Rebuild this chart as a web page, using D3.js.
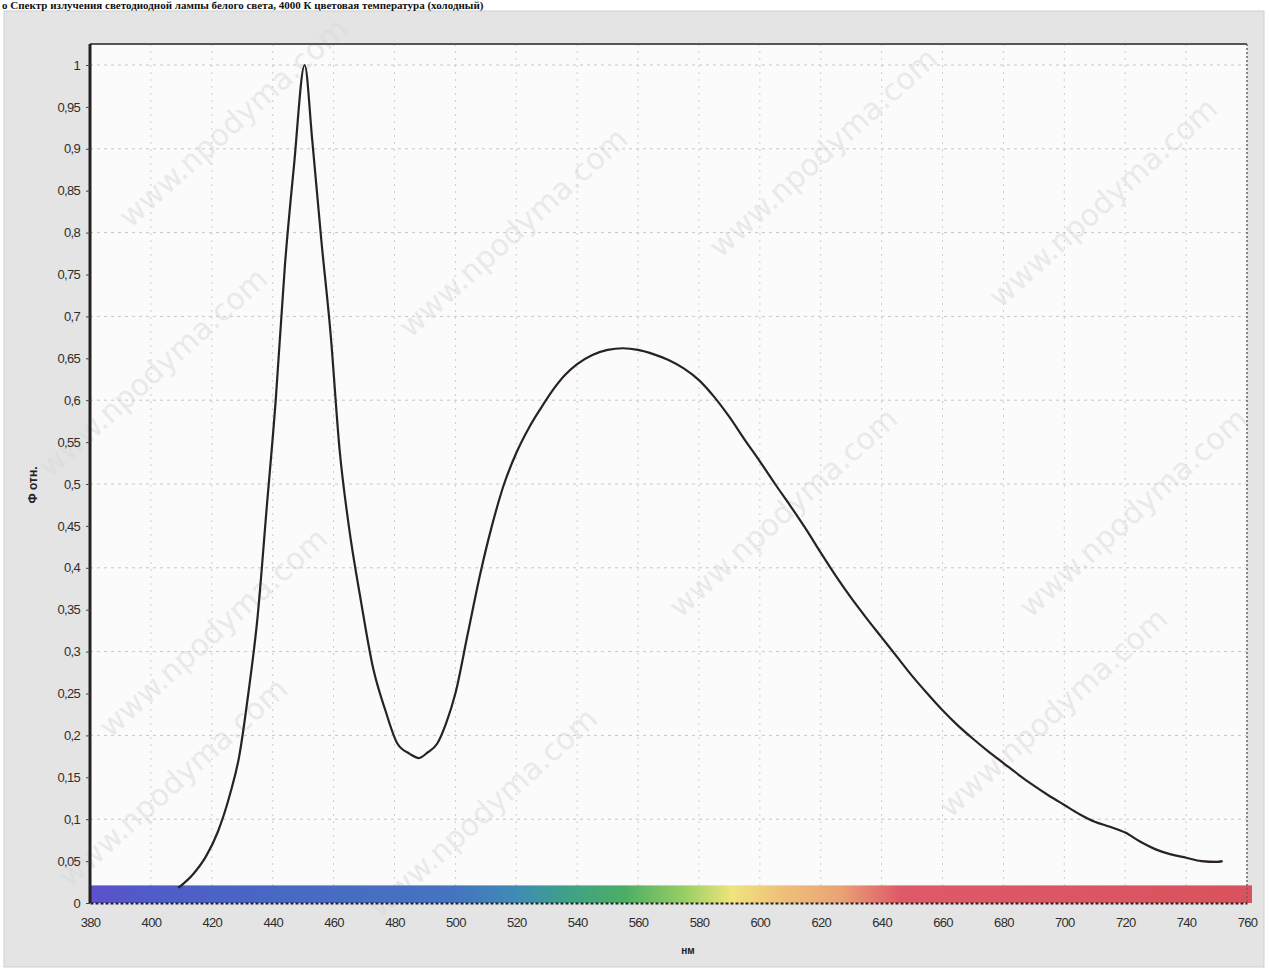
<!DOCTYPE html>
<html>
<head>
<meta charset="utf-8">
<script src="https://cdn.jsdelivr.net/npm/d3@7"></script>
<style>
  body { margin: 0; background: #ffffff; }
  svg { display: block; }
  .tick text { font-family: "Liberation Sans", Arial, sans-serif; font-size: 13px; fill: #2e2e2e; letter-spacing: -0.7px; }
</style>
</head>
<body>
<div id="chart"></div>
<script>
// data
var wavelengths = [409, 414, 418, 422, 426, 429, 432, 435, 438, 441, 444, 447, 450.5, 453, 456, 459, 462, 465,
  469, 473, 477, 481, 485, 488, 491, 494, 497, 500, 504, 508, 512, 516, 520, 524, 528, 532, 536, 540,
  545, 550, 555, 560, 565, 570, 575, 580, 585, 590, 595, 600, 605, 610, 615, 620, 625, 630, 635, 640,
  645, 650, 655, 660, 665, 670, 675, 680, 685, 690, 695, 700, 705, 710, 715, 720, 725, 730, 735, 740,
  745, 750, 752];
var fluxValues = [0.018, 0.035, 0.055, 0.085, 0.13, 0.175, 0.25, 0.34, 0.47, 0.60, 0.76, 0.88, 1.0, 0.91, 0.79, 0.68, 0.54, 0.45,
  0.36, 0.28, 0.23, 0.19, 0.178, 0.173, 0.18, 0.19, 0.215, 0.25, 0.32, 0.39, 0.45, 0.50, 0.537, 0.566, 0.59, 0.612, 0.63, 0.643,
  0.654, 0.66, 0.662, 0.66, 0.655, 0.648, 0.638, 0.624, 0.604, 0.58, 0.553, 0.527, 0.5, 0.474, 0.447, 0.418, 0.39, 0.364, 0.34, 0.317,
  0.294, 0.271, 0.25, 0.23, 0.212, 0.196, 0.181, 0.167, 0.153, 0.14, 0.128, 0.117, 0.106, 0.097, 0.091, 0.084, 0.073, 0.064, 0.058, 0.054,
  0.05, 0.049, 0.05];
var xTicks = d3.range(380, 761, 20);
var yTicks = d3.range(0, 1.0001, 0.05);
var spectrumStops = [380, 400, 440, 500, 520, 535, 555, 575, 590, 605, 625, 645, 760];
var spectrumColors = ["#5e50cc", "#4f5cc8", "#4868c4", "#4574c0", "#3f8cb4", "#3ea08a", "#4cae64", "#9ccf66",
  "#f0e47c", "#efc27a", "#e9a476", "#de5a68", "#d9525e"];
var watermarks = [[240, 130], [520, 240], [830, 160], [1110, 210], [160, 380], [790, 520], [220, 640],
  [1140, 520], [490, 820], [1060, 720], [180, 790]];

function init(){
  var w = 1269, h = 969;
  var left = 90, right = 1247, top = 44, bottom = 903;

  var svg = d3.select("#chart").append("svg")
    .attr("width", w)
    .attr("height", h);

  // outer grey panel
  svg.append("rect").attr("x", 0).attr("y", 0).attr("width", w).attr("height", h).attr("fill", "#ffffff");
  svg.append("rect").attr("x", 4).attr("y", 11).attr("width", w - 9).attr("height", h - 13)
    .attr("fill", "#e4e4e4").attr("stroke", "#cfcfcf");

  // heading from the page above (only its lower part shows in the scan)
  svg.append("text")
    .attr("x", 2).attr("y", 9)
    .attr("font-family", "Liberation Serif, serif")
    .attr("font-weight", "bold")
    .attr("font-size", 11)
    .attr("fill", "#111")
    .text("о Спектр излучения светодиодной лампы белого света, 4000 К цветовая температура (холодный)");

  // plot background
  svg.append("rect").attr("x", left).attr("y", top).attr("width", right - left).attr("height", bottom - top)
    .attr("fill", "#fbfbfb");

  var xScale = d3.scaleLinear().domain([380, 760]).range([left, right]);
  var yScale = d3.scaleLinear().domain([0, 1]).range([bottom, 65]);

  // grid
  svg.append("g")
    .selectAll("line.vg")
    .data(xTicks.slice(1, -1))
    .enter()
    .append("line")
    .attr("x1", function(d){ return xScale(d); })
    .attr("x2", function(d){ return xScale(d); })
    .attr("y1", top).attr("y2", bottom)
    .attr("stroke", "#cccccc").attr("stroke-dasharray", "2,5").attr("stroke-width", 1);
  svg.append("g")
    .selectAll("line.hg")
    .data(yTicks.filter(function(d, i){ return i > 0 && i % 2 === 0; }))
    .enter()
    .append("line")
    .attr("x1", left).attr("x2", right)
    .attr("y1", function(d){ return yScale(d); })
    .attr("y2", function(d){ return yScale(d); })
    .attr("stroke", "#c6c6c6").attr("stroke-dasharray", "3,4").attr("stroke-width", 1);

  // watermarks
  svg.append("g")
    .selectAll("text")
    .data(watermarks)
    .enter()
    .append("text")
    .attr("transform", function(d){ return "translate(" + d[0] + "," + d[1] + ") rotate(-42)"; })
    .attr("text-anchor", "middle")
    .attr("font-family", "DejaVu Sans, sans-serif")
    .attr("font-size", 30)
    .attr("fill", "#d9d9d9")
    .attr("opacity", 0.5)
    .text("www.npodyma.com");

  // spectrum bar
  var grad = svg.append("defs").append("linearGradient")
    .attr("id", "spec").attr("x1", "0%").attr("x2", "100%");
  grad.selectAll("stop")
    .data(spectrumStops)
    .enter()
    .append("stop")
    .attr("offset", function(d){ return ((d - 380) / 380 * 100) + "%"; })
    .attr("stop-color", function(d, i){ return spectrumColors[i]; });
  svg.append("rect")
    .attr("x", xScale(380)).attr("y", yScale(0.021))
    .attr("width", xScale(760) - xScale(380) + 5)
    .attr("height", yScale(0) - yScale(0.021))
    .attr("fill", "url(#spec)");

  // curve
  var pts = wavelengths.map(function(d, i){ return [d, fluxValues[i]]; });
  var line = d3.line()
    .x(function(d){ return xScale(d[0]); })
    .y(function(d){ return yScale(d[1]); })
    .curve(d3.curveMonotoneX);
  svg.append("path")
    .datum(pts)
    .attr("d", line)
    .attr("fill", "none")
    .attr("stroke", "#2a2222")
    .attr("stroke-width", 2.2);

  // borders
  svg.append("line").attr("x1", left).attr("x2", right).attr("y1", top).attr("y2", top)
    .attr("stroke", "#555").attr("stroke-width", 2);
  svg.append("line").attr("x1", right).attr("x2", right).attr("y1", top).attr("y2", bottom)
    .attr("stroke", "#666").attr("stroke-dasharray", "2,2").attr("stroke-width", 1.5);

  // axes
  var xAxis = d3.axisBottom(xScale).tickValues(xTicks).tickSize(0).tickPadding(15)
    .tickFormat(function(d){ return d; });
  var gx = svg.append("g")
    .attr("transform", "translate(0," + bottom + ")")
    .call(xAxis);
  gx.select(".domain").attr("stroke", "#222").attr("stroke-width", 2).attr("stroke-dasharray", "3,2");

  var yAxis = d3.axisLeft(yScale).tickValues(yTicks).tickSize(4).tickPadding(6)
    .tickFormat(function(d){ return d3.format("~g")(+d.toFixed(2)).replace(".", ","); });
  var gy = svg.append("g")
    .attr("transform", "translate(" + left + ",0)")
    .call(yAxis);
  gy.select(".domain").attr("d", "M0," + top + "V" + bottom)
    .attr("stroke", "#222").attr("stroke-width", 3);
  gy.selectAll(".tick line").attr("stroke", "#444");

  // axis titles
  svg.append("text")
    .attr("transform", "translate(37,485) rotate(-90)")
    .attr("text-anchor", "middle")
    .attr("font-family", "Liberation Sans, Arial, sans-serif")
    .attr("font-weight", "bold")
    .attr("font-size", 12)
    .attr("fill", "#222")
    .text("Ф отн.");
  svg.append("text")
    .attr("x", 688).attr("y", 954)
    .attr("text-anchor", "middle")
    .attr("font-family", "Liberation Sans, Arial, sans-serif")
    .attr("font-weight", "bold")
    .attr("font-size", 10)
    .attr("fill", "#222")
    .text("нм");
}

window.onload = init;
</script>
</body>
</html>
